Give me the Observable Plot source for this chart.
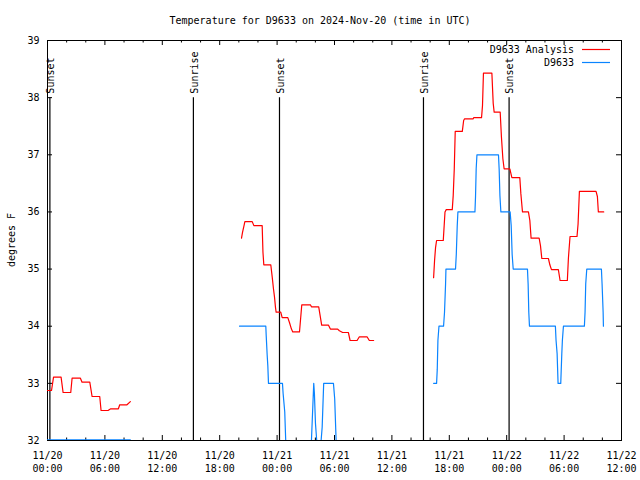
<!DOCTYPE html>
<html>
<head>
<meta charset="utf-8">
<script src="https://cdn.jsdelivr.net/npm/d3@7"></script>
<script src="https://cdn.jsdelivr.net/npm/@observablehq/plot@0.6"></script>
<style>
  body { margin: 0; background: #fff; }
</style>
</head>
<body>
<div id="chart"></div>
<script>
// ---------- data ----------
const chartTitle = "Temperature for D9633 on 2024-Nov-20 (time in UTC)";
const yAxisLabel = "degrees F";
const startUTC = Date.UTC(2024, 10, 20, 0, 0);   // 11/20 00:00 UTC
const spanHours = 60;                            // to 11/22 12:00
const yDomain = [32, 39];
const yTickValues = [32, 33, 34, 35, 36, 37, 38, 39];
const majorTickHours = [0, 6, 12, 18, 24, 30, 36, 42, 48, 54, 60];
const minorTickHours = [2, 4, 8, 10, 14, 16, 20, 22, 26, 28, 32, 34, 38, 40, 44, 46, 50, 52, 56, 58];

const eventHours  = [0.25, 15.25, 24.25, 39.3, 48.25];
const eventLabels = ["Sunset", "Sunrise", "Sunset", "Sunrise", "Sunset"];
const eventTop = 38;

const seriesNames  = ["D9633 Analysis", "D9633"];
const seriesColors = ["#ff0000", "#0a84ff"];

// hours since 11/20 00:00 UTC; NaN temperature = gap between segments
const analysisHours = [
  0, 0.42, 0.63, 1.42, 1.63, 2.43, 2.57, 3.44, 3.61, 4.42, 4.66, 5.46, 5.6, 6.33, 6.61, 7.41, 7.55, 8.31, 8.66,
  9,
  20.28, 20.39, 20.56, 20.63, 21.4, 21.57, 22.44, 22.52, 22.61, 23.34, 23.49, 23.62, 23.73, 23.83, 23.9, 24.38, 24.53,
  25.12, 25.3, 25.5, 25.64, 26.34, 26.58, 27.48, 27.59, 28.35, 28.66, 29.36, 29.57, 30.33, 30.51, 30.85, 31.45, 31.63,
  32.36, 32.6, 33.4, 33.64, 34.09,
  35,
  40.36, 40.46, 40.56, 40.67, 41.37, 41.55, 41.68, 42.31, 42.41, 42.52, 42.62, 43.36, 43.5, 43.6, 44.5, 44.55, 45.37,
  45.47, 45.57, 46.45, 46.59, 46.69, 47.32, 47.45, 47.6, 47.73, 48.33, 48.54, 49.37, 49.48, 49.65, 50.27, 50.42, 50.55,
  51.39, 51.53, 51.67, 52.36, 52.51, 52.68, 53.4, 53.58, 54.34, 54.45, 54.62, 55.35, 55.46, 55.6, 57.34, 57.48, 57.58, 58.14
];
const analysisTemps = [
  32.875, 32.875, 33.11, 33.11, 32.84, 32.84, 33.09, 33.09, 33.02, 33.02, 32.77, 32.77, 32.525, 32.525, 32.555, 32.555, 32.625, 32.625, 32.68,
  NaN,
  35.54, 35.645, 35.775, 35.83, 35.83, 35.76, 35.76, 35.3, 35.075, 35.075, 34.86, 34.655, 34.51, 34.33, 34.245, 34.245, 34.15,
  34.15, 34.06, 33.95, 33.9, 33.9, 34.375, 34.375, 34.34, 34.34, 34.02, 34.02, 33.95, 33.95, 33.92, 33.89, 33.89, 33.75,
  33.75, 33.815, 33.815, 33.75, 33.75,
  NaN,
  34.85, 35.15, 35.37, 35.5, 35.5, 36.0, 36.04, 36.04, 36.29, 36.755, 37.41, 37.41, 37.6, 37.63, 37.63, 37.65, 37.65,
  37.86, 38.43, 38.43, 37.9, 37.745, 37.745, 37.31, 36.93, 36.755, 36.755, 36.6, 36.6, 36.32, 36.0, 36.0, 35.85, 35.54,
  35.54, 35.41, 35.185, 35.185, 35.075, 34.99, 34.99, 34.8, 34.8, 35.19, 35.57, 35.57, 35.79, 36.36, 36.36, 36.27, 36.0, 36.0
];

// observed values below 32 are off the bottom of the chart
const obsHours = [
  0, 8.66,
  9,
  20.07, 22.82, 22.86, 22.96, 23.03, 23.1, 24.56, 24.63, 24.8, 24.9, 25.0, 27.4, 27.59, 27.83, 27.9, 28.01, 28.14, 28.3,
  28.45, 28.6, 28.71, 28.87, 29.89, 30.02, 30.17, 30.3, 34.09,
  35,
  40.36, 40.67, 40.74, 40.81, 40.92, 41.4, 41.5, 41.61, 41.65, 42.65, 42.73, 42.83, 42.9, 44.68, 44.74, 44.81, 44.89,
  47.14, 47.21, 47.29, 47.39, 48.36, 48.47, 48.57, 48.68, 50.17, 50.24, 50.31, 50.38, 53.09, 53.16, 53.27, 53.37,
  53.65, 53.76, 53.82, 53.93, 56.12, 56.19, 56.26, 56.37, 57.9, 57.97, 58.08, 58.11
];
const obsTemps = [
  32.01, 32.01,
  NaN,
  34, 34, 33.84, 33.5, 33.31, 33, 33, 32.82, 32.5, 32.0, 31.5, 31.5, 32.0, 33, 32.82, 32.3, 32.0, 31.5,
  31.5, 32.0, 32.23, 33, 33, 32.73, 32.0, 31.5, 31.5,
  NaN,
  33, 33, 33.24, 33.75, 34, 34, 34.245, 34.74, 35, 35, 35.255, 35.76, 36, 36, 36.26, 36.755, 37,
  37, 36.755, 36.29, 36, 36, 35.76, 35.255, 35, 35, 34.74, 34.245, 34, 34, 33.75, 33.52, 33,
  33, 33.52, 33.75, 34, 34, 34.245, 34.74, 35, 35, 34.74, 34.245, 34
];

// ---------- build tables ----------
const toDate = h => new Date(startUTC + h * 3600e3);
const analysis = analysisHours.map((h, i) => ({date: toDate(h), temp: analysisTemps[i]}));
const observed = obsHours.map((h, i) => ({date: toDate(h), temp: obsTemps[i]}));
const events = eventHours.map((h, i) => ({date: toDate(h), label: eventLabels[i]}));
const majorTicks = majorTickHours.map(toDate);
const minorTicks = minorTickHours.map(toDate);

const W = 640, H = 480;
const M = {top: 40, right: 19, bottom: 40, left: 47};
const plotW = W - M.left - M.right;
const plotH = H - M.top - M.bottom;
const FONT = "DejaVu Sans Mono";

// title, y label and legend drawn relative to the frame
function decorations(index, scales, values, dims) {
  const g = d3.create("svg:g")
    .attr("font-family", FONT)
    .attr("font-size", 10)
    .attr("fill", "black");
  g.append("text")
    .attr("x", dims.width / 2)
    .attr("y", 20)
    .attr("text-anchor", "middle")
    .attr("dominant-baseline", "central")
    .text(chartTitle);
  const cy = dims.marginTop + (dims.height - dims.marginTop - dims.marginBottom) / 2;
  g.append("text")
    .attr("transform", `translate(11,${cy}) rotate(-90)`)
    .attr("text-anchor", "middle")
    .attr("dominant-baseline", "central")
    .text(yAxisLabel);
  const right = dims.width - dims.marginRight;
  seriesNames.forEach((name, i) => {
    const y = dims.marginTop + 9.5 + i * 13;
    g.append("text")
      .attr("x", right - 47)
      .attr("y", y)
      .attr("text-anchor", "end")
      .attr("dominant-baseline", "central")
      .text(name);
    g.append("line")
      .attr("x1", right - 39).attr("x2", right - 11)
      .attr("y1", y).attr("y2", y)
      .attr("stroke", seriesColors[i])
      .attr("stroke-width", 1.2);
  });
  return g.node();
}

const chart = Plot.plot({
  width: W,
  height: H,
  marginTop: M.top,
  marginRight: M.right,
  marginBottom: M.bottom,
  marginLeft: M.left,
  style: {fontFamily: FONT, fontSize: "10px", background: "#fff", color: "black"},
  x: {type: "utc", domain: [toDate(0), toDate(spanHours)]},
  y: {domain: yDomain},
  marks: [
    Plot.axisX({ticks: majorTicks, tickFormat: d3.utcFormat("%m/%d\n%H:%M"), tickSize: 0, tickPadding: 9, label: null, lineHeight: 1.3}),
    Plot.axisY({ticks: yTickValues, tickFormat: d => String(d), tickSize: 0, tickPadding: 8, label: null}),
    // inward ticks on all four sides
    Plot.ruleX(majorTicks, {x: d => d, insetTop: plotH - 5, stroke: "black"}),
    Plot.ruleX(majorTicks, {x: d => d, insetBottom: plotH - 5, stroke: "black"}),
    Plot.ruleX(minorTicks, {x: d => d, insetTop: plotH - 2.5, stroke: "black"}),
    Plot.ruleX(minorTicks, {x: d => d, insetBottom: plotH - 2.5, stroke: "black"}),
    Plot.ruleY(yTickValues, {y: d => d, insetRight: plotW - 5, stroke: "black"}),
    Plot.ruleY(yTickValues, {y: d => d, insetLeft: plotW - 5, stroke: "black"}),
    // sunrise / sunset markers
    Plot.ruleX(events, {x: "date", y1: yDomain[0], y2: eventTop, stroke: "black", strokeWidth: 1.2}),
    Plot.text(events, {x: "date", y: eventTop, text: "label", rotate: -90, textAnchor: "start", dy: -4, dx: 1, fill: "black"}),
    Plot.frame({stroke: "black"}),
    // series
    Plot.line(analysis, {x: "date", y: "temp", stroke: seriesColors[0], strokeWidth: 1.2, clip: true}),
    Plot.line(observed, {x: "date", y: "temp", stroke: seriesColors[1], strokeWidth: 1.2, clip: true}),
    decorations
  ]
});
document.getElementById("chart").append(chart);
</script>
</body>
</html>
